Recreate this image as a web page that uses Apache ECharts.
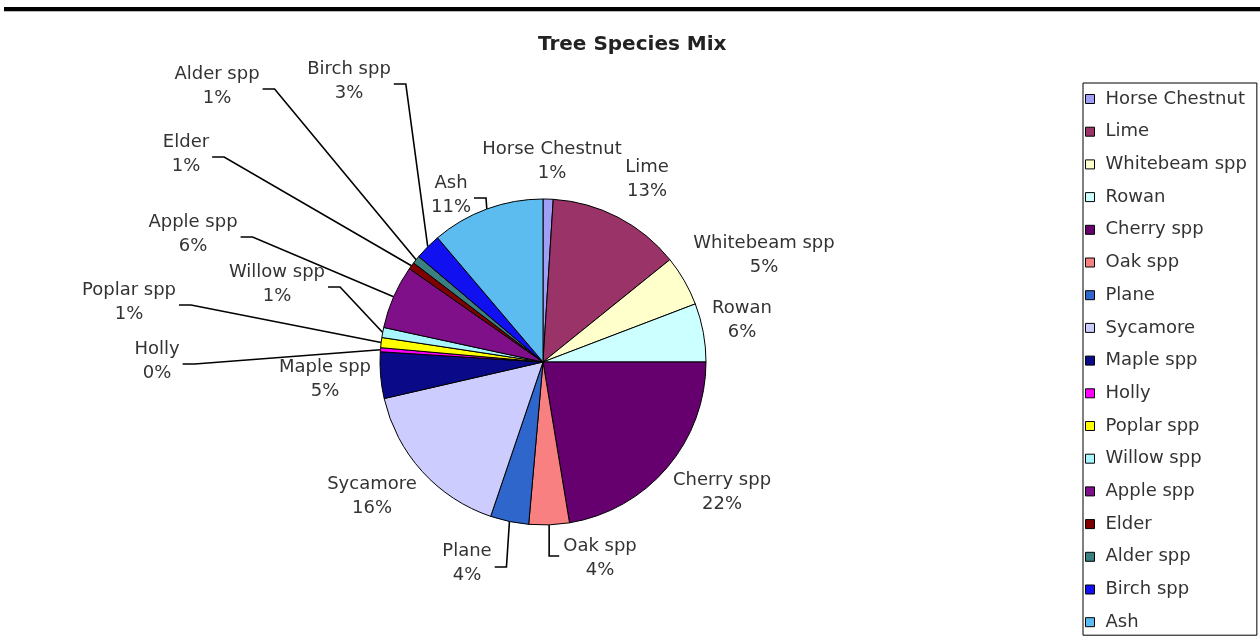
<!DOCTYPE html>
<html>
<head>
<meta charset="utf-8">
<style>html,body{margin:0;padding:0;background:#fff;}#chart{width:1260px;height:642px;}</style>
<script src="https://cdn.jsdelivr.net/npm/echarts@6/dist/echarts.min.js"></script>
</head>
<body>
<div id="chart"></div>
<script>
// ---- data ----
const categories = ['Horse Chestnut','Lime','Whitebeam spp','Rowan','Cherry spp','Oak spp','Plane','Sycamore','Maple spp','Holly','Poplar spp','Willow spp','Apple spp','Elder','Alder spp','Birch spp','Ash'];
const shares = [1.0, 13.2, 5.0, 5.8, 22.4, 4.0, 3.8, 16.2, 4.6, 0.4, 1.0, 1.0, 6.3, 0.7, 0.8, 2.6, 11.2];
const chartTitle = 'Tree Species Mix';

// ---- styling ----
const palette = ['#9f9ff5','#993368','#ffffcc','#ccffff','#66006e','#f88080','#2f66cc','#ccccff','#0a0a88','#ff00ff','#ffff00','#a8f4ff','#80108a','#800000','#3a8080','#1010f0','#5cbcf0'];
const FONT = 'DejaVu Sans';
const LABEL_SIZE = 18;
// label placement (centre of label text) and leader style
const labelPlacement = {
  'Horse Chestnut': [552, 161, null],
  'Lime': [647, 179, null],
  'Whitebeam spp': [764, 255, null],
  'Rowan': [742, 320, null],
  'Cherry spp': [722, 492, null],
  'Oak spp': [600, 558, 'dropRight'],
  'Plane': [467, 563, 'dropLeft'],
  'Sycamore': [372, 496, null],
  'Maple spp': [325, 379, null],
  'Holly': [157, 361, 'side'],
  'Poplar spp': [129, 302, 'side'],
  'Willow spp': [277, 284, 'side'],
  'Apple spp': [193, 234, 'side'],
  'Elder': [186, 154, 'side'],
  'Alder spp': [217, 86, 'side'],
  'Birch spp': [349, 81, 'side'],
  'Ash': [451, 195, 'side']
};

const measureCtx = document.createElement('canvas').getContext('2d');
measureCtx.font = LABEL_SIZE + 'px "' + FONT + '"';
function labelWidth(text) {
  return Math.max.apply(null, text.split('\n').map(t => measureCtx.measureText(t).width));
}
const labelText = p => p.name + '\n' + Math.round(p.percent) + '%';

const chart = echarts.init(document.getElementById('chart'), null, {renderer: 'canvas'});
const total = shares.reduce((a, b) => a + b, 0);
const seriesData = categories.map((name, i) => ({
  name: name,
  value: shares[i],
  itemStyle: {color: palette[i]},
  labelLine: {show: !!labelPlacement[name][2]}
}));

chart.setOption({
  animation: false,
  backgroundColor: '#fff',
  graphic: [
    {type: 'rect', left: 4, top: 7, shape: {width: 1256, height: 4}, style: {fill: '#000'}},
    {type: 'rect', left: 4, top: 11, shape: {width: 1256, height: 1}, style: {fill: '#bbb'}}
  ],
  title: {
    text: chartTitle,
    left: 538, top: 35, padding: 0,
    textStyle: {fontFamily: FONT, fontSize: 20, fontWeight: 'bold', color: '#222'}
  },
  legend: {
    orient: 'vertical',
    left: 1083, top: 83,
    padding: [6, 10, 3, 2],
    itemWidth: 9, itemHeight: 9, itemGap: 12.7,
    icon: 'rect',
    borderColor: '#000', borderWidth: 1, backgroundColor: '#fff',
    itemStyle: {borderColor: '#000', borderWidth: 1},
    textStyle: {fontFamily: FONT, fontSize: LABEL_SIZE, lineHeight: 20, color: '#333', padding: [0, 0, 0, 6]},
    data: categories
  },
  series: [{
    type: 'pie',
    center: [543, 362],
    radius: 163,
    startAngle: 90,
    clockwise: true,
    avoidLabelOverlap: false,
    emphasis: {disabled: true},
    itemStyle: {borderColor: '#000', borderWidth: 1},
    label: {
      show: true,
      position: 'outside',
      fontFamily: FONT, fontSize: LABEL_SIZE, lineHeight: 24, color: '#333',
      formatter: labelText
    },
    labelLine: {show: true, lineStyle: {color: '#000', width: 1.6}},
    labelLayout: function (p) {
      const name = categories[p.dataIndex];
      const pos = labelPlacement[name];
      const res = {x: pos[0], y: pos[1], align: 'center', verticalAlign: 'middle'};
      const lp = p.labelLinePoints;
      if (pos[2] && lp && lp.length) {
        const a = lp[0];
        const w = labelWidth(name + '\n' + Math.round(shares[p.dataIndex] / total * 100) + '%');
        let pts;
        if (pos[2] === 'side') {
          const ax = pos[0] + w / 2 + 3, ay = pos[1] + 3;
          pts = [[ax, ay], [ax + 12, ay], [a[0], a[1]]];
        } else if (pos[2] === 'dropRight') {
          const ay = pos[1] - 2;
          pts = [[a[0], a[1]], [a[0], ay], [pos[0] - w / 2 - 4, ay]];
        } else {
          const ay = pos[1] + 4;
          pts = [[a[0], a[1]], [a[0] - 3, ay], [pos[0] + w / 2 + 3, ay]];
        }
        res.labelLinePoints = pts;
      }
      return res;
    },
    data: seriesData
  }]
});
</script>
</body>
</html>
